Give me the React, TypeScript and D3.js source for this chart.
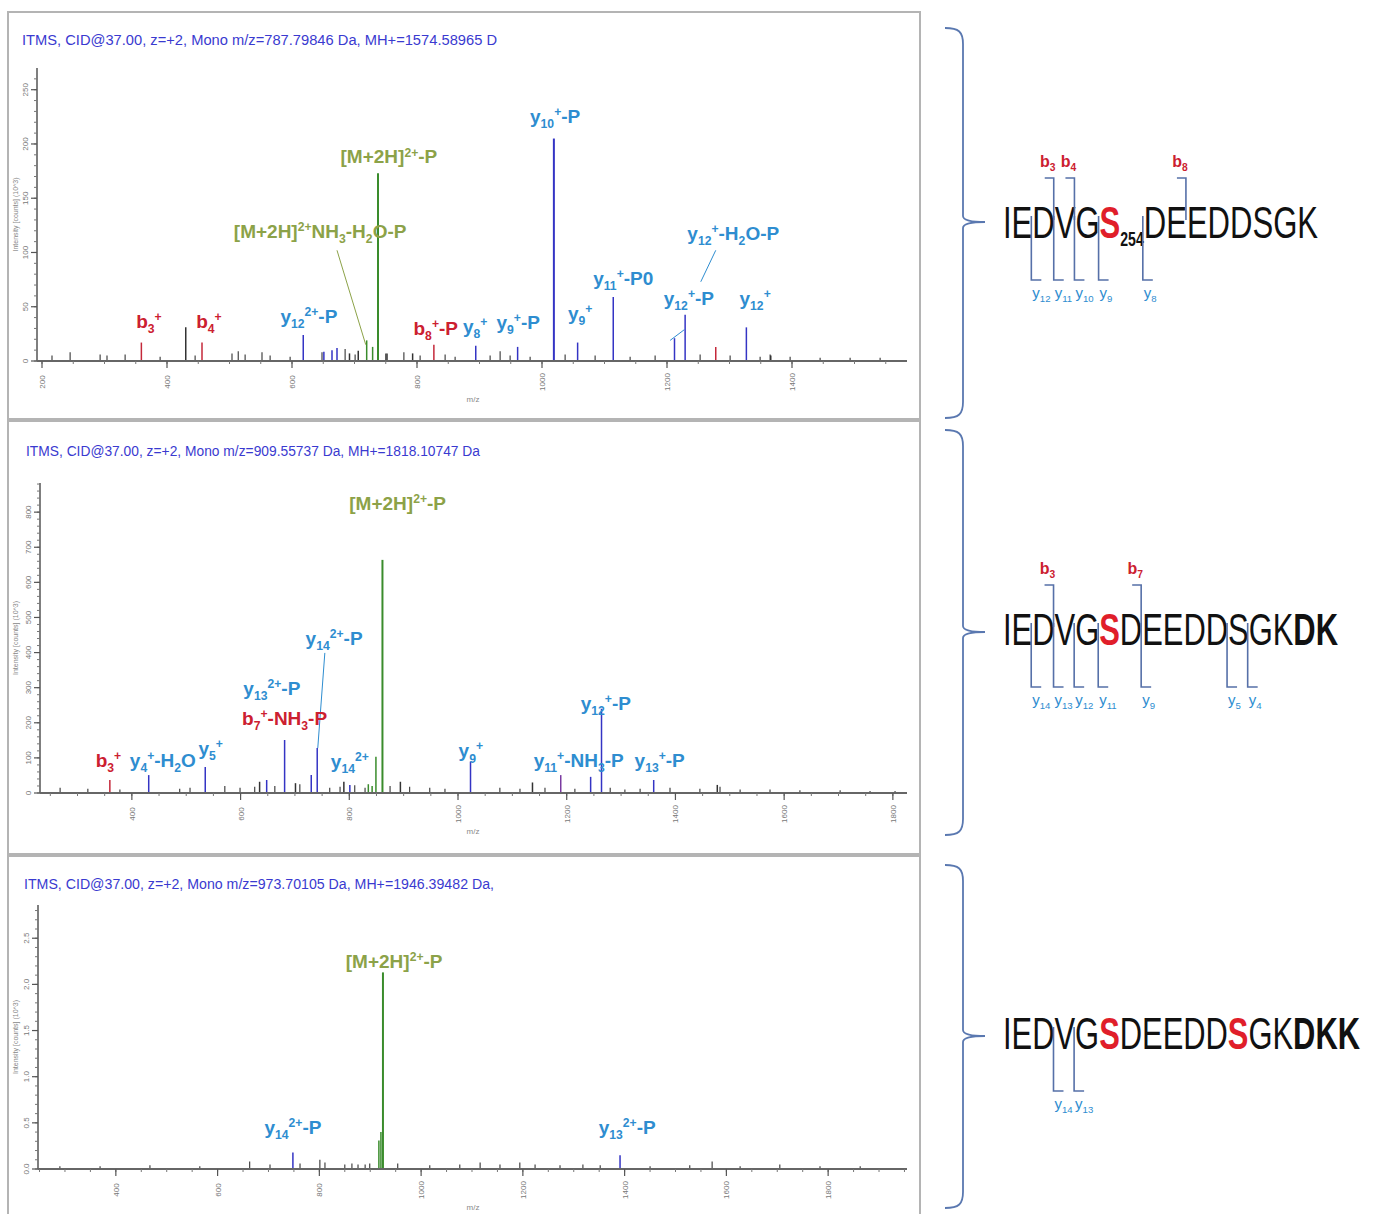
import React from 'react';
import * as d3 from 'd3';

// ---------------- Panel 1 data ----------------
const p1Title = 'ITMS, CID@37.00, z=+2, Mono m/z=787.79846 Da, MH+=1574.58965 D';
const p1XTicks = [200, 400, 600, 800, 1000, 1200, 1400];
const p1YTicks = [0, 50, 100, 150, 200, 250];
const p1PeakMz = [359, 430, 456, 618, 651, 664, 672, 692, 706, 719.5, 729, 737.6, 752, 793, 827, 894, 961, 1019, 1057, 1114, 1212, 1229, 1278, 1327, 1366];
const p1PeakInt = [17, 31, 17, 24, 8.6, 10, 12, 7, 9.5, 19, 13, 173, 7, 7, 15, 14, 13, 205, 17, 59, 21, 42.6, 13, 31, 5];
const p1PeakType = ['b', 'n', 'b', 'y', 'y', 'y', 'y', 'n', 'n', 'p', 'p', 'p', 'n', 'n', 'b', 'y', 'y', 'y', 'y', 'y', 'y', 'y', 'b', 'y', 'n'];
const p1NoiseMz = [216, 245, 293, 304, 333, 389, 445, 504, 514, 525, 552, 565, 597, 648, 685, 701, 750, 779, 805, 845, 861, 917, 933, 949, 981, 1037, 1085, 1141, 1181, 1253, 1301, 1349, 1365, 1397, 1445, 1493, 1541];
const p1NoiseInt = [5, 8, 6, 5, 6, 4, 5, 7, 9, 6, 8, 5, 4, 8, 11, 6, 7, 8, 5, 6, 4, 5, 9, 5, 4, 6, 5, 4, 5, 6, 5, 4, 6, 4, 3, 3, 3];
const p1LabelText = ['y_{10}^{+}-P', '[M+2H]^{2+}-P', '[M+2H]^{2+}NH_{3}-H_{2}O-P', 'y_{12}^{+}-H_{2}O-P', 'y_{11}^{+}-P0', 'y_{12}^{+}-P', 'y_{12}^{+}', 'b_{3}^{+}', 'b_{4}^{+}', 'y_{12}^{2+}-P', 'b_{8}^{+}-P', 'y_{8}^{+}', 'y_{9}^{+}-P', 'y_{9}^{+}'];
const p1LabelType = ['y', 'p', 'p', 'y', 'y', 'y', 'y', 'b', 'b', 'y', 'b', 'y', 'y', 'y'];
const p1LabelMz = [1021, 755, 645, 1306, 1130, 1235, 1341, 371, 467, 627, 830, 893, 962, 1061];
const p1LabelInt = [219.6, 182, 113.5, 111.6, 70, 51.7, 51.7, 30.4, 30.4, 35, 24, 26, 29.5, 37.8];
const p1LeaderFromMz = [672, 1278, 1205];
const p1LeaderFromInt = [102, 102, 19];
const p1LeaderToMz = [718, 1254, 1228];
const p1LeaderToInt = [15, 73, 29];
const p1LeaderType = ['p', 'y', 'y'];

// ---------------- Panel 2 data ----------------
const p2Title = 'ITMS, CID@37.00, z=+2, Mono m/z=909.55737 Da, MH+=1818.10747 Da';
const p2XTicks = [400, 600, 800, 1000, 1200, 1400, 1600, 1800];
const p2YTicks = [0, 100, 200, 300, 400, 500, 600, 700, 800];
const p2PeakMz = [359.5, 431, 535, 635, 648, 681, 701, 730, 741, 790, 801, 835, 842, 849, 861, 894, 1023, 1137, 1189, 1244, 1264, 1360, 1477];
const p2PeakInt = [37, 51, 74, 32, 37, 151, 28, 51, 128, 32, 23, 25, 20, 103, 664, 32, 89, 30, 51, 46, 240, 37, 23];
const p2PeakType = ['b', 'y', 'y', 'n', 'y', 'y', 'n', 'y', 'y', 'n', 'y', 'p', 'p', 'p', 'p', 'n', 'y', 'n', 'v', 'y', 'y', 'y', 'n'];
const p2NoiseMz = [268, 319, 378, 488, 507, 571, 599, 626, 663, 709, 764, 783, 810, 829, 875, 911, 948, 976, 1077, 1114, 1160, 1215, 1280, 1307, 1335, 1390, 1445, 1482, 1519, 1574, 1629, 1703, 1758, 1804];
const p2NoiseInt = [15, 12, 10, 12, 15, 20, 15, 18, 20, 25, 15, 18, 22, 15, 20, 18, 15, 12, 15, 12, 15, 12, 15, 10, 12, 15, 12, 18, 10, 10, 8, 8, 6, 6];
const p2LabelText = ['[M+2H]^{2+}-P', 'y_{14}^{2+}-P', 'y_{13}^{2+}-P', 'b_{7}^{+}-NH_{3}-P', 'y_{12}^{+}-P', 'b_{3}^{+}', 'y_{4}^{+}-H_{2}O', 'y_{5}^{+}', 'y_{14}^{2+}', 'y_{9}^{+}', 'y_{11}^{+}-NH_{3}-P', 'y_{13}^{+}-P'];
const p2LabelType = ['p', 'y', 'y', 'b', 'y', 'b', 'y', 'y', 'y', 'y', 'y', 'y'];
const p2LabelMz = [889, 772, 657.5, 681, 1272, 357, 457, 545, 801, 1023.6, 1222, 1371];
const p2LabelInt = [806, 422, 279, 194, 236, 74, 74, 108, 71, 102, 74, 74];
const p2LeaderFromMz = [755];
const p2LeaderFromInt = [399];
const p2LeaderToMz = [742];
const p2LeaderToInt = [128];
const p2LeaderType = ['y'];

// ---------------- Panel 3 data ----------------
const p3Title = 'ITMS, CID@37.00, z=+2, Mono m/z=973.70105 Da, MH+=1946.39482 Da,';
const p3XTicks = [400, 600, 800, 1000, 1200, 1400, 1600, 1800];
const p3YTicks = [0, 0.5, 1.0, 1.5, 2.0, 2.5];
const p3PeakMz = [748, 917, 921, 925, 1391];
const p3PeakInt = [0.18, 0.31, 0.4, 2.13, 0.15];
const p3PeakType = ['y', 'p', 'p', 'p', 'y'];
const p3NoiseMz = [290, 369, 467, 565, 663, 703, 762, 801, 811, 850, 864, 876, 890, 899, 954, 1017, 1076, 1116, 1155, 1194, 1224, 1273, 1318, 1352, 1450, 1528, 1572, 1627, 1705, 1784, 1863];
const p3NoiseInt = [0.03, 0.03, 0.04, 0.03, 0.08, 0.05, 0.06, 0.1, 0.07, 0.05, 0.06, 0.05, 0.05, 0.06, 0.06, 0.04, 0.05, 0.07, 0.05, 0.07, 0.05, 0.04, 0.05, 0.04, 0.03, 0.04, 0.08, 0.03, 0.05, 0.03, 0.03];
const p3LabelText = ['[M+2H]^{2+}-P', 'y_{14}^{2+}-P', 'y_{13}^{2+}-P'];
const p3LabelType = ['p', 'y', 'y'];
const p3LabelMz = [947, 748, 1405];
const p3LabelInt = [2.18, 0.38, 0.38];

// ---------------- Peptides ----------------
const pep1Residues = 'IEDVGSDEEDDSGK';
const pep1Red = [5];
const pep1Bold: number[] = [];
const pep1Site = '254';
const pep1B = [3, 4, 8];
const pep1Y = [12, 11, 10, 9, 8];

const pep2Residues = 'IEDVGSDEEDDSGKDK';
const pep2Red = [5];
const pep2Bold = [14, 15];
const pep2B = [3, 7];
const pep2Y = [14, 13, 12, 11, 9, 5, 4];

const pep3Residues = 'IEDVGSDEEDDSGKDKK';
const pep3Red = [5, 11];
const pep3Bold = [14, 15, 16];
const pep3B: number[] = [];
const pep3Y = [14, 13];

// ---------------- Styles ----------------
const FONT = "'Liberation Sans', Arial, Helvetica, sans-serif";
const peakColor: Record<string, string> = { y: '#3434c4', b: '#c4283a', p: '#3a8c2c', n: '#333333', v: '#7a3aa0' };
const labelColor: Record<string, string> = { y: '#2e8dd0', b: '#cc2030', p: '#8ca248' };
const bracketColor = '#5670a8';

type Seg = { t: string; m: 'n' | 'sub' | 'sup' };
function parseLabel(s: string): Seg[] {
  const segs: Seg[] = [];
  let i = 0;
  let cur = '';
  while (i < s.length) {
    if ((s[i] === '_' || s[i] === '^') && s[i + 1] === '{') {
      if (cur) { segs.push({ t: cur, m: 'n' }); cur = ''; }
      const end = s.indexOf('}', i);
      segs.push({ t: s.slice(i + 2, end), m: s[i] === '_' ? 'sub' : 'sup' });
      i = end + 1;
    } else { cur += s[i]; i++; }
  }
  if (cur) segs.push({ t: cur, m: 'n' });
  return segs;
}

function RichText(props: { x: number; y: number; text: string; fill: string; size: number; anchor: string; weight?: string }) {
  const { x, y, text, fill, size, anchor, weight } = props;
  const segs = parseLabel(text);
  let off = 0;
  return (
    <text x={x} y={y} fill={fill} fontSize={size} textAnchor={anchor} fontWeight={weight || 'bold'} fontFamily={FONT}>
      {segs.map((s, i) => {
        const target = s.m === 'sub' ? size * 0.28 : s.m === 'sup' ? -size * 0.36 : 0;
        const dy = target - off;
        off = target;
        return (
          <tspan key={i} dy={dy} fontSize={s.m === 'n' ? size : size * 0.64}>{s.t}</tspan>
        );
      })}
    </text>
  );
}

type PanelProps = {
  frame: [number, number, number, number];
  title: string;
  titleX: number; titleY: number; titleLen: number;
  xDomain: [number, number]; xRange: [number, number];
  yDomain: [number, number]; yRange: [number, number];
  xTicks: number[]; yTicks: number[]; yFmt: (v: number) => string;
  xMinorStep: number; yMinorStep: number;
  peakMz: number[]; peakInt: number[]; peakType: string[];
  noiseMz: number[]; noiseInt: number[];
  labelText: string[]; labelType: string[]; labelMz: number[]; labelInt: number[];
  leaderFromMz?: number[]; leaderFromInt?: number[]; leaderToMz?: number[]; leaderToInt?: number[]; leaderType?: string[];
};

function Panel(p: PanelProps) {
  const xs = d3.scaleLinear().domain(p.xDomain).range(p.xRange);
  const ys = d3.scaleLinear().domain(p.yDomain).range(p.yRange);
  const base = ys(0);
  const [fx, fy, fw, fh] = p.frame;
  const xMinor = d3.range(Math.ceil(p.xDomain[0] / p.xMinorStep) * p.xMinorStep, p.xDomain[1], p.xMinorStep);
  const yMinor = d3.range(0, p.yDomain[1], p.yMinorStep);
  const axisX = p.xRange[0];
  return (
    <g>
      <rect x={fx} y={fy} width={fw} height={fh} fill="#ffffff" stroke="#b4b4b4" strokeWidth={2} />
      <text x={p.titleX} y={p.titleY} fontSize={14} fill="#3a3ad0" fontFamily={FONT} textLength={p.titleLen} lengthAdjust="spacingAndGlyphs">{p.title}</text>
      {p.noiseMz.map((m, i) => (
        <line key={'n' + i} x1={xs(m)} x2={xs(m)} y1={base} y2={ys(p.noiseInt[i])} stroke="#444" strokeWidth={1.2} />
      ))}
      {p.peakMz.map((m, i) => (
        <line key={'p' + i} x1={xs(m)} x2={xs(m)} y1={base} y2={ys(p.peakInt[i])} stroke={peakColor[p.peakType[i]]} strokeWidth={p.peakInt[i] > p.yDomain[1] * 0.3 ? 2 : 1.5} />
      ))}
      {(p.leaderFromMz || []).map((m, i) => (
        <line key={'l' + i} x1={xs(m)} y1={ys(p.leaderFromInt![i])} x2={xs(p.leaderToMz![i])} y2={ys(p.leaderToInt![i])} stroke={labelColor[p.leaderType![i]]} strokeWidth={1} />
      ))}
      <line x1={axisX} x2={axisX} y1={p.yRange[1]} y2={base} stroke="#555" strokeWidth={1.5} />
      {yMinor.map((v, i) => (
        <line key={'ym' + i} x1={axisX - 3} x2={axisX} y1={ys(v)} y2={ys(v)} stroke="#777" strokeWidth={1} />
      ))}
      {p.yTicks.map((v, i) => (
        <g key={'yt' + i}>
          <line x1={axisX - 6} x2={axisX} y1={ys(v)} y2={ys(v)} stroke="#555" strokeWidth={1.2} />
          <text transform={`translate(${axisX - 9},${ys(v)}) rotate(-90)`} textAnchor="middle" fontSize={8} fill="#777" fontFamily={FONT}>{p.yFmt(v)}</text>
        </g>
      ))}
      <text transform={`translate(${fx + 10},${(p.yRange[0] + p.yRange[1]) / 2}) rotate(-90)`} textAnchor="middle" fontSize={7} fill="#888" fontFamily={FONT}>Intensity [counts] (10^3)</text>
      <line x1={axisX} x2={p.xRange[1]} y1={base} y2={base} stroke="#666" strokeWidth={2.2} />
      {xMinor.map((v, i) => (
        <line key={'xm' + i} x1={xs(v)} x2={xs(v)} y1={base} y2={base + 3} stroke="#777" strokeWidth={1} />
      ))}
      {p.xTicks.map((v, i) => (
        <g key={'xt' + i}>
          <line x1={xs(v)} x2={xs(v)} y1={base} y2={base + 7} stroke="#555" strokeWidth={1.2} />
          <text transform={`translate(${xs(v) + 3},${base + 21}) rotate(-90)`} textAnchor="middle" fontSize={8} fill="#777" fontFamily={FONT}>{v}</text>
        </g>
      ))}
      <text x={473} y={base + 41} textAnchor="middle" fontSize={8} fill="#888" fontFamily={FONT}>m/z</text>
      {p.labelText.map((t, i) => (
        <RichText key={'lb' + i} x={xs(p.labelMz[i])} y={ys(p.labelInt[i])} text={t} fill={labelColor[p.labelType[i]]} size={19} anchor="middle" />
      ))}
    </g>
  );
}

const widthEm: Record<string, number> = { I: 278, E: 667, D: 722, V: 667, G: 778, S: 667, K: 667 };

function Peptide(props: { residues: string; red: number[]; bold: number[]; site?: string; bIons: number[]; yIons: number[]; x0: number; base: number; total: number }) {
  const { residues, red, bold, site, bIons, yIons, x0, base, total } = props;
  const fs = 44;
  const siteFs = 20;
  const letters = residues.split('');
  const widths = letters.map((c, i) => (bold.includes(i) && c === 'K' ? 722 : widthEm[c]) * fs / 1000);
  const siteW = site ? site.length * 556 * siteFs / 1000 : 0;
  const natural = d3.sum(widths) + siteW;
  const k = total / natural;
  const starts: number[] = [];
  let cum = 0;
  letters.forEach((c, i) => {
    starts.push(x0 + cum * k);
    cum += widths[i];
    if (site && i === red[0]) cum += siteW;
  });
  const L = letters.length;
  const spans: React.ReactNode[] = [];
  letters.forEach((c, i) => {
    const isRed = red.includes(i);
    const isBold = isRed || bold.includes(i);
    const afterSite = site && i === red[0] + 1;
    spans.push(
      <tspan key={'r' + i} dy={afterSite ? -8 : 0} fontWeight={isBold ? 'bold' : 'normal'} fill={isRed ? '#e01e2a' : '#111'}>{c}</tspan>
    );
    if (site && i === red[0]) {
      spans.push(<tspan key="site" dy={8} fontSize={siteFs} fontWeight="bold" fill="#111">{site}</tspan>);
    }
  });
  return (
    <g>
      <g transform={`translate(${x0},${base}) scale(${k},1)`}>
        <text x={0} y={0} fontSize={fs} fontFamily={FONT}>{spans}</text>
      </g>
      {bIons.map((n, i) => {
        const bx = starts[n] - 1;
        return (
          <g key={'b' + i}>
            <path d={`M${bx - 9},${base - 60} L${bx},${base - 60} L${bx},${base - 18}`} fill="none" stroke={bracketColor} strokeWidth={1.6} />
            <RichText x={bx - 6} y={base - 71} text={`b_{${n}}`} fill="#cc2030" size={16} anchor="middle" />
          </g>
        );
      })}
      {yIons.map((n, i) => {
        const yx = starts[L - n] - 1;
        return (
          <g key={'y' + i}>
            <path d={`M${yx},${base - 22} L${yx},${base + 42} L${yx + 10},${base + 42}`} fill="none" stroke={bracketColor} strokeWidth={1.6} />
            <RichText x={yx + 1} y={base + 60} text={`y_{${n}}`} fill="#2e8dd0" size={15} anchor="start" weight="normal" />
          </g>
        );
      })}
    </g>
  );
}

function Brace(props: { top: number; mid: number; bottom: number }) {
  const { top, mid, bottom } = props;
  const x0 = 945, x1 = 963, tip = 985;
  const d = `M${x0},${top} C${x1 - 4},${top} ${x1},${top + 4} ${x1},${top + 16} L${x1},${mid - 6} Q${x1},${mid} ${tip},${mid} Q${x1},${mid} ${x1},${mid + 6} L${x1},${bottom - 16} C${x1},${bottom - 4} ${x1 - 4},${bottom} ${x0},${bottom}`;
  return <path d={d} fill="none" stroke="#5a78b0" strokeWidth={1.8} />;
}

export default function App() {
  return (
    <svg width={1377} height={1214} style={{ position: 'absolute', left: 0, top: 0, background: '#fff' }}>
      <Panel frame={[8, 12, 912, 407]} title={p1Title} titleX={22} titleY={45} titleLen={475}
        xDomain={[192, 1584]} xRange={[37, 907]} yDomain={[0, 270]} yRange={[361, 68]}
        xTicks={p1XTicks} yTicks={p1YTicks} yFmt={(v) => String(v)} xMinorStep={50} yMinorStep={10}
        peakMz={p1PeakMz} peakInt={p1PeakInt} peakType={p1PeakType}
        noiseMz={p1NoiseMz} noiseInt={p1NoiseInt}
        labelText={p1LabelText} labelType={p1LabelType} labelMz={p1LabelMz} labelInt={p1LabelInt}
        leaderFromMz={p1LeaderFromMz} leaderFromInt={p1LeaderFromInt} leaderToMz={p1LeaderToMz} leaderToInt={p1LeaderToInt} leaderType={p1LeaderType} />
      <Panel frame={[8, 421, 912, 433]} title={p2Title} titleX={26} titleY={456} titleLen={454}
        xDomain={[231, 1826]} xRange={[40, 907]} yDomain={[0, 883]} yRange={[793, 483]}
        xTicks={p2XTicks} yTicks={p2YTicks} yFmt={(v) => String(v)} xMinorStep={50} yMinorStep={20}
        peakMz={p2PeakMz} peakInt={p2PeakInt} peakType={p2PeakType}
        noiseMz={p2NoiseMz} noiseInt={p2NoiseInt}
        labelText={p2LabelText} labelType={p2LabelType} labelMz={p2LabelMz} labelInt={p2LabelInt}
        leaderFromMz={p2LeaderFromMz} leaderFromInt={p2LeaderFromInt} leaderToMz={p2LeaderToMz} leaderToInt={p2LeaderToInt} leaderType={p2LeaderType} />
      <Panel frame={[8, 856, 912, 360]} title={p3Title} titleX={24} titleY={889} titleLen={470}
        xDomain={[247, 1955]} xRange={[38, 907]} yDomain={[0, 2.86]} yRange={[1169, 905]}
        xTicks={p3XTicks} yTicks={p3YTicks} yFmt={d3.format('.1f')} xMinorStep={50} yMinorStep={0.1}
        peakMz={p3PeakMz} peakInt={p3PeakInt} peakType={p3PeakType}
        noiseMz={p3NoiseMz} noiseInt={p3NoiseInt}
        labelText={p3LabelText} labelType={p3LabelType} labelMz={p3LabelMz} labelInt={p3LabelInt} />
      <Brace top={28} mid={222} bottom={418} />
      <Brace top={430} mid={632} bottom={835} />
      <Brace top={865} mid={1036} bottom={1208} />
      <Peptide residues={pep1Residues} red={pep1Red} bold={pep1Bold} site={pep1Site} bIons={pep1B} yIons={pep1Y} x0={1003} base={238} total={315} />
      <Peptide residues={pep2Residues} red={pep2Red} bold={pep2Bold} bIons={pep2B} yIons={pep2Y} x0={1003} base={645} total={335} />
      <Peptide residues={pep3Residues} red={pep3Red} bold={pep3Bold} bIons={pep3B} yIons={pep3Y} x0={1003} base={1049} total={357} />
    </svg>
  );
}
